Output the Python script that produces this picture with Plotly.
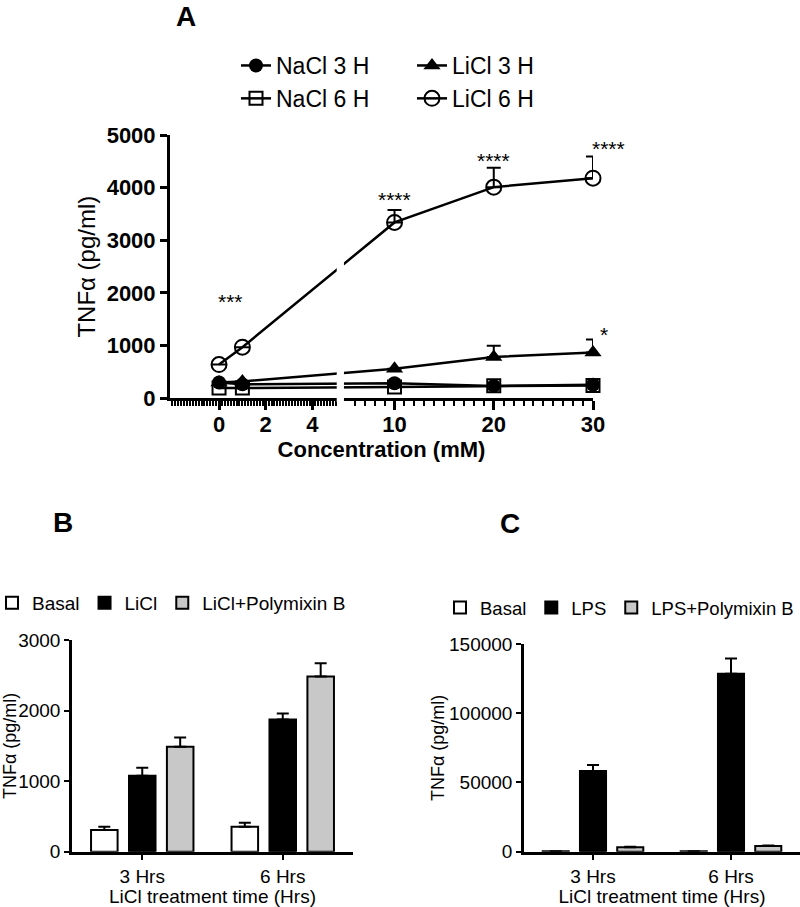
import plotly.graph_objects as go

# ---------------- Panel A data ----------------
conc = [0, 1, 10, 20, 30]
nacl_3h = [300, 265, 285, 235, 255]
nacl_6h = [195, 195, 215, 236, 245]
licl_3h = [300, 320, 560, 785, 870]
licl_3h_err = [0, 0, 0, 215, 245]
licl_6h = [640, 970, 3340, 4010, 4180]
licl_6h_err = [0, 0, 235, 370, 410]

star_x = [0.47, 10, 20, 30, 30]
star_y = [1830, 3780, 4520, 4750, 1220]
star_text = ["***", "****", "****", "****", "*"]
star_shift = [0, 0, 0, 15, 11]

a_major_ticks = [0, 2, 4, 10, 20, 30]
a_y_ticks = [0, 1000, 2000, 3000, 4000, 5000]

# ---------------- Panel B / C data ----------------
time_cats = ["3 Hrs", "6 Hrs"]
b_basal = [307, 354]
b_basal_err = [45, 56]
b_licl = [1076, 1875]
b_licl_err = [114, 85]
b_poly = [1487, 2483]
b_poly_err = [133, 189]
b_y_ticks = [0, 1000, 2000, 3000]

c_basal = [400, 400]
c_basal_err = [0, 0]
c_lps = [58300, 128600]
c_lps_err = [4300, 10900]
c_poly = [3300, 4200]
c_poly_err = [300, 300]
c_y_ticks = [0, 50000, 100000, 150000]

# ---------------- broken x axis transform ----------------
BREAK = 5.0
GAP = 0.39
RIGHT_SCALE = 0.425


def bx(x):
    return x if x <= BREAK else BREAK + GAP + (x - BREAK) * RIGHT_SCALE


FONT = "Liberation Sans"
W, H = 800, 907


def px_x(p):
    return p / W


def px_y(p):
    return 1 - p / H


fig = go.Figure()

line_common = dict(color="black", width=2.5)


def err(arr):
    return dict(type="data", array=arr, arrayminus=[0] * len(arr), symmetric=False,
                color="black", thickness=2, width=7)


ax = [bx(v) for v in conc]
fig.add_trace(go.Scatter(x=ax, y=licl_6h, name="LiCl 6 H", mode="lines+markers",
                         line=line_common, error_y=err(licl_6h_err), cliponaxis=False,
                         marker=dict(symbol="circle-open", size=15, color="black", line=dict(width=2)),
                         legend="legend2", xaxis="x", yaxis="y", legendrank=2))
fig.add_trace(go.Scatter(x=ax, y=nacl_6h, name="NaCl 6 H", mode="lines+markers",
                         line=line_common, cliponaxis=False,
                         marker=dict(symbol="square-open", size=13, color="black", line=dict(width=2)),
                         legend="legend", xaxis="x", yaxis="y", legendrank=2))
fig.add_trace(go.Scatter(x=ax, y=licl_3h, name="LiCl 3 H", mode="lines+markers",
                         line=line_common, error_y=err(licl_3h_err), cliponaxis=False,
                         marker=dict(symbol="triangle-up", size=15, color="black"),
                         legend="legend2", xaxis="x", yaxis="y", legendrank=1))
fig.add_trace(go.Scatter(x=ax, y=nacl_3h, name="NaCl 3 H", mode="lines+markers",
                         line=line_common, cliponaxis=False,
                         marker=dict(symbol="circle", size=14, color="black"),
                         legend="legend", xaxis="x", yaxis="y", legendrank=1))

# ---------------- bars ----------------
bar_fill = ["white", "black", "#c8c8c8"]


def bar_err(arr):
    return dict(type="data", array=arr, arrayminus=[0] * len(arr), symmetric=False,
                color="black", thickness=2, width=6)


for name, vals, e, col in [("Basal", b_basal, b_basal_err, bar_fill[0]),
                            ("LiCl", b_licl, b_licl_err, bar_fill[1]),
                            ("LiCl+Polymixin B", b_poly, b_poly_err, bar_fill[2])]:
    fig.add_trace(go.Bar(x=time_cats, y=vals, name=name, error_y=bar_err(e),
                         marker=dict(color=col, line=dict(color="black", width=2)),
                         xaxis="x2", yaxis="y2", legend="legend3", offsetgroup=name))

for name, vals, e, col in [("Basal", c_basal, c_basal_err, bar_fill[0]),
                            ("LPS", c_lps, c_lps_err, bar_fill[1]),
                            ("LPS+Polymixin B", c_poly, c_poly_err, bar_fill[2])]:
    fig.add_trace(go.Bar(x=time_cats, y=vals, name=name, error_y=bar_err(e),
                         marker=dict(color=col, line=dict(color="black", width=2)),
                         xaxis="x3", yaxis="y3", legend="legend4", offsetgroup=name))

# ---------------- annotations ----------------
annotations = []
for sx, sy, st, sh in zip(star_x, star_y, star_text, star_shift):
    annotations.append(dict(x=bx(sx), y=sy, xref="x", yref="y", text=st, showarrow=False,
                            xshift=sh, font=dict(family=FONT, size=21, color="black")))

for letter, lx, ly in [("A", 186, 16), ("B", 63, 522), ("C", 510, 523)]:
    annotations.append(dict(x=px_x(lx), y=px_y(ly), xref="paper", yref="paper", text=letter,
                            showarrow=False, xanchor="center", yanchor="middle",
                            font=dict(family=FONT, size=28, color="black", weight="bold")))

# axis break gap (white strip over lines and axis)
A_X0, A_X1 = 170, 593
A_Y0, A_Y1 = 398.3, 135
shapes = [dict(type="rect", xref="x", yref="paper", x0=BREAK + 0.04, x1=BREAK + GAP - 0.04,
               y0=px_y(A_Y0 + 4), y1=px_y(A_Y1), fillcolor="white", line=dict(width=0),
               layer="above")]

left_minor = [round(-2.0 + 0.125 * i, 4) for i in range(57)]
right_minor = list(range(5, 31))
minor_vals = [bx(v) for v in left_minor] + [bx(v) + 1e-6 for v in right_minor]

axis_common = dict(showgrid=False, zeroline=False, showline=True, linecolor="black",
                   ticks="outside", tickcolor="black", automargin=False)

fig.update_layout(
    width=W, height=H, margin=dict(l=0, r=0, t=0, b=0, autoexpand=False),
    paper_bgcolor="white", plot_bgcolor="white",
    font=dict(family=FONT, color="black"),
    barmode="group", bargap=0.19, bargroupgap=0.3,
    annotations=annotations, shapes=shapes,
    xaxis=dict(**axis_common, domain=[px_x(A_X0), px_x(A_X1)], anchor="y",
               range=[bx(-2.1), bx(30)], linewidth=3, tickwidth=2.5, ticklen=9,
               tickmode="array", tickvals=[bx(v) for v in a_major_ticks],
               ticktext=[str(v) for v in a_major_ticks], ticklabelstandoff=-5,
               tickfont=dict(family=FONT, size=22, weight="bold"),
               minor=dict(tickmode="array", tickvals=minor_vals, ticklen=5, tickwidth=1.5,
                          tickcolor="black", ticks="outside"),
               title=dict(text="Concentration (mM)", standoff=4,
                          font=dict(family=FONT, size=22, weight="bold"))),
    yaxis=dict(**axis_common, domain=[px_y(A_Y0), px_y(A_Y1)], anchor="x",
               range=[0, 5000], linewidth=3, tickwidth=2.5, ticklen=7,
               tickmode="array", tickvals=a_y_ticks, ticklabelstandoff=0,
               tickfont=dict(family=FONT, size=22, weight="bold"),
               title=dict(text="TNFα (pg/ml)", standoff=5, font=dict(family=FONT, size=24))),
    xaxis2=dict(**axis_common, domain=[px_x(72), px_x(353)], anchor="y2",
                range=[-0.5, 1.5], linewidth=2.5, tickwidth=2, ticklen=6,
                tickfont=dict(family=FONT, size=19),
                title=dict(text="LiCl treatment time (Hrs)", standoff=6,
                           font=dict(family=FONT, size=19))),
    yaxis2=dict(**axis_common, domain=[px_y(851.7), px_y(640)], anchor="x2",
                range=[0, 3000], linewidth=2.5, tickwidth=2, ticklen=5,
                tickmode="array", tickvals=b_y_ticks, ticklabelstandoff=0,
                tickfont=dict(family=FONT, size=19),
                title=dict(text="TNFα (pg/ml)", standoff=8, font=dict(family=FONT, size=18))),
    xaxis3=dict(**axis_common, domain=[px_x(524), px_x(800)], anchor="y3",
                range=[-0.5, 1.5], linewidth=2.5, tickwidth=2, ticklen=6,
                tickfont=dict(family=FONT, size=19),
                title=dict(text="LiCl treatment time (Hrs)", standoff=6,
                           font=dict(family=FONT, size=19))),
    yaxis3=dict(**axis_common, domain=[px_y(851.7), px_y(644)], anchor="x3",
                range=[0, 150000], linewidth=2.5, tickwidth=2, ticklen=5,
                tickmode="array", tickvals=c_y_ticks, ticklabelstandoff=0,
                tickformat="d",
                tickfont=dict(family=FONT, size=19),
                title=dict(text="TNFα (pg/ml)", standoff=0, font=dict(family=FONT, size=18))),
    legend=dict(x=px_x(236), y=px_y(44), xanchor="left", yanchor="top",
                bgcolor="rgba(0,0,0,0)", font=dict(family=FONT, size=23),
                tracegroupgap=0, itemsizing="trace"),
    legend2=dict(x=px_x(412), y=px_y(44), xanchor="left", yanchor="top",
                 bgcolor="rgba(0,0,0,0)", font=dict(family=FONT, size=23),
                 tracegroupgap=0, itemsizing="trace"),
    legend3=dict(x=px_x(-8), y=px_y(584), xanchor="left", yanchor="top", orientation="h",
                 bgcolor="rgba(0,0,0,0)", font=dict(family=FONT, size=19)),
    legend4=dict(x=px_x(440), y=px_y(589), xanchor="left", yanchor="top", orientation="h",
                 bgcolor="rgba(0,0,0,0)", font=dict(family=FONT, size=18.5)),
)

fig.write_html("out.html", config={"displayModeBar": False},
               post_script="document.body.style.margin='0';document.body.style.padding='0';"
                           "document.body.style.overflow='hidden';")
